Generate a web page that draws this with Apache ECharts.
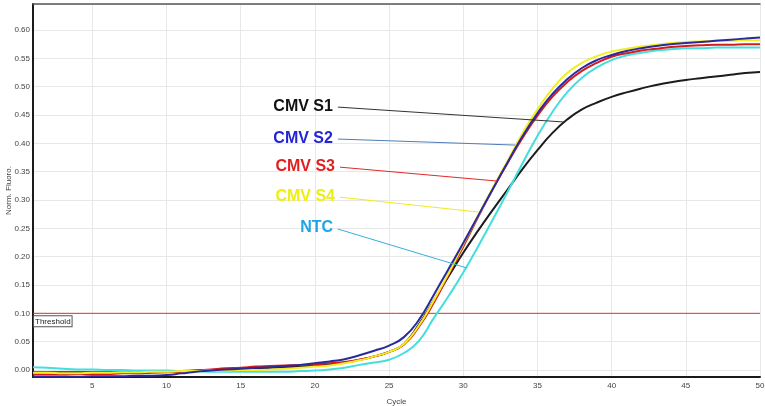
<!DOCTYPE html>
<html>
<head>
<meta charset="utf-8">
<script src="https://cdn.jsdelivr.net/npm/echarts@6/dist/echarts.min.js"></script>
<style>
  html, body { margin: 0; padding: 0; background: #fff; }
  #chart { width: 765px; height: 406px; }
</style>
</head>
<body>
<div id="chart"></div>
<script>
// cycle numbers (x)
var cycles = [1, 2, 3, 4, 5, 6, 7, 8, 9, 10, 11, 12, 13, 14, 15, 16, 17, 18, 19, 20,
  21, 22, 23, 24, 25, 26, 27, 28, 29, 30, 31, 32, 33, 34, 35, 36, 37, 38, 39, 40,
  41, 42, 43, 44, 45, 46, 47, 48, 49, 50];

// normalised fluorescence
var cmvS1 = [-0.004, -0.004, -0.004, -0.004, -0.004, -0.004, -0.004, -0.003, -0.003, -0.003,
  -0.002, -0.001, 0.000, 0.001, 0.002, 0.003, 0.004, 0.005, 0.006, 0.008,
  0.010, 0.013, 0.018, 0.024, 0.032, 0.046, 0.080, 0.122, 0.165, 0.207,
  0.246, 0.283, 0.319, 0.355, 0.388, 0.418, 0.442, 0.460, 0.472, 0.482,
  0.490, 0.497, 0.503, 0.508, 0.512, 0.515, 0.518, 0.521, 0.524, 0.526];
var cmvS2 = [-0.012, -0.012, -0.012, -0.012, -0.011, -0.011, -0.011, -0.010, -0.010, -0.009,
  -0.006, -0.003, -0.001, 0.001, 0.002, 0.004, 0.005, 0.007, 0.009, 0.012,
  0.015, 0.019, 0.026, 0.034, 0.043, 0.058, 0.088, 0.132, 0.178, 0.224,
  0.272, 0.320, 0.367, 0.413, 0.453, 0.487, 0.513, 0.533, 0.547, 0.556,
  0.563, 0.568, 0.572, 0.575, 0.577, 0.579, 0.581, 0.583, 0.585, 0.587];
var cmvS3 = [-0.008, -0.008, -0.008, -0.007, -0.007, -0.007, -0.006, -0.006, -0.005, -0.004,
  -0.003, -0.001, 0.001, 0.003, 0.004, 0.006, 0.007, 0.008, 0.009, 0.010,
  0.012, 0.014, 0.018, 0.024, 0.032, 0.045, 0.076, 0.118, 0.168, 0.218,
  0.270, 0.320, 0.366, 0.410, 0.449, 0.482, 0.508, 0.528, 0.542, 0.553,
  0.559, 0.564, 0.567, 0.570, 0.572, 0.573, 0.574, 0.574, 0.575, 0.575];
var cmvS4 = [-0.005, -0.005, -0.006, -0.006, -0.005, -0.005, -0.004, -0.004, -0.003, -0.003,
  -0.002, -0.002, -0.001, -0.001, 0.000, 0.000, 0.001, 0.002, 0.004, 0.006,
  0.008, 0.012, 0.017, 0.024, 0.032, 0.046, 0.078, 0.122, 0.170, 0.222,
  0.272, 0.322, 0.370, 0.418, 0.460, 0.496, 0.524, 0.542, 0.554, 0.562,
  0.567, 0.571, 0.574, 0.577, 0.579, 0.580, 0.581, 0.581, 0.582, 0.582];
var ntc = [0.005, 0.004, 0.002, 0.001, 0.001, 0.000, 0.000, -0.001, -0.001, -0.001,
  -0.002, -0.002, -0.003, -0.003, -0.003, -0.003, -0.003, -0.003, -0.002, -0.001,
  0.001, 0.004, 0.009, 0.013, 0.018, 0.030, 0.051, 0.091, 0.130, 0.172,
  0.218, 0.266, 0.315, 0.365, 0.413, 0.455, 0.490, 0.516, 0.534, 0.547,
  0.555, 0.560, 0.564, 0.566, 0.568, 0.568, 0.569, 0.569, 0.569, 0.569];

var seriesNames = ["CMV S1", "CMV S2", "CMV S3", "CMV S4", "NTC"];
var threshold = 0.10;

var lineColors = ["#1c1c1c", "#2a2a9c", "#d41c1c", "#f2ee22", "#44dede"];
var textColors = ["#111111", "#2323d8", "#e01f1f", "#eeee10", "#1ea6e2"];
var leaderColors = ["#333333", "#4f7db8", "#e02a2a", "#f0ec20", "#35aee0"];
var thresholdColor = "#e03030";

// leader lines: [start x, start y] -> [end x, end y] in data units
var leaders = [
  [[21.55, 0.464], [36.86, 0.4376]],
  [[21.55, 0.4076], [33.49, 0.397]],
  [[21.69, 0.358], [32.27, 0.3335]],
  [[21.69, 0.305], [31.0, 0.2788]],
  [[21.55, 0.2488], [30.25, 0.180]]
];

var allValues = [cmvS1, cmvS2, cmvS3, cmvS4, ntc];

function pairs(vals) {
  return cycles.map(function (c, i) { return [c, vals[i]]; });
}

var font = "Liberation Sans, Arial, sans-serif";
var series = [];

// threshold line as its own flat series, with its boxed label
series.push({
  name: "Threshold",
  type: "line",
  data: [[cycles[0], threshold], [cycles[cycles.length - 1], threshold]],
  showSymbol: false,
  symbol: "none",
  lineStyle: { color: thresholdColor, width: 1 },
  itemStyle: { color: thresholdColor },
  z: 2,
  markPoint: {
    silent: true,
    animation: false,
    symbol: "rect",
    symbolSize: 0,
    label: {
      show: true,
      position: "inside",
      align: "left",
      verticalAlign: "top",
      offset: [1, 3],
      formatter: "Threshold",
      color: "#222",
      fontFamily: font,
      fontSize: 8,
      backgroundColor: "#fff",
      borderColor: "#555",
      borderWidth: 1,
      padding: [1, 1]
    },
    data: [{ coord: [cycles[0], threshold] }]
  }
});

// draw order: black under, blue on top
[0, 4, 2, 3, 1].forEach(function (k) {
  series.push({
    name: seriesNames[k],
    type: "line",
    data: pairs(allValues[k]),
    showSymbol: false,
    symbol: "none",
    smooth: true,
    lineStyle: { color: lineColors[k], width: 2 },
    itemStyle: { color: lineColors[k] },
    z: 3,
    markLine: {
      silent: true,
      symbol: "none",
      animation: false,
      lineStyle: { color: leaderColors[k], width: 1, type: "solid" },
      label: {
        show: true,
        position: "start",
        distance: 5,
        formatter: seriesNames[k],
        color: textColors[k],
        fontFamily: font,
        fontWeight: "bold",
        fontSize: 16
      },
      data: [[
        { coord: leaders[k][0] },
        { coord: leaders[k][1] }
      ]]
    }
  });
});

var option = {
  animation: false,
  backgroundColor: "#fff",
  grid: { left: 33, right: 5, top: 4, bottom: 29, containLabel: false, outerBoundsMode: "none" },
  xAxis: [{
    type: "value",
    min: 1,
    max: 50,
    splitNumber: 10,
    name: "Cycle",
    nameLocation: "middle",
    nameGap: 21,
    nameMoveOverlap: false,
    nameTextStyle: { color: "#444", fontSize: 8, fontFamily: font },
    axisLine: { show: true, onZero: false, lineStyle: { color: "#1a1a1a", width: 2 } },
    axisTick: { show: false },
    axisLabel: { color: "#444", fontSize: 8, fontFamily: font, margin: 5, showMinLabel: false },
    splitLine: { show: true, lineStyle: { color: "#e8e8e8", width: 1 } }
  }, {
    type: "value",
    position: "top",
    min: 1,
    max: 50,
    axisLine: { show: true, onZero: false, lineStyle: { color: "#555", width: 1.5 } },
    axisTick: { show: false },
    axisLabel: { show: false },
    splitLine: { show: false }
  }],
  yAxis: {
    type: "value",
    min: -0.0124,
    max: 0.646,
    splitNumber: 13,
    name: "Norm. Fluoro.",
    nameLocation: "middle",
    nameGap: 20,
    nameMoveOverlap: false,
    nameTextStyle: { color: "#444", fontSize: 8, fontFamily: font },
    axisLine: { show: true, onZero: false, lineStyle: { color: "#1a1a1a", width: 2 } },
    axisTick: { show: false },
    axisLabel: {
      color: "#444", fontSize: 8, fontFamily: font, margin: 3,
      showMinLabel: false, showMaxLabel: false,
      formatter: function (v) { return v.toFixed(2); }
    },
    splitLine: { show: true, lineStyle: { color: "#e8e8e8", width: 1 } }
  },
  series: series
};

var chart = echarts.init(document.getElementById("chart"));
chart.setOption(option);
</script>
</body>
</html>
